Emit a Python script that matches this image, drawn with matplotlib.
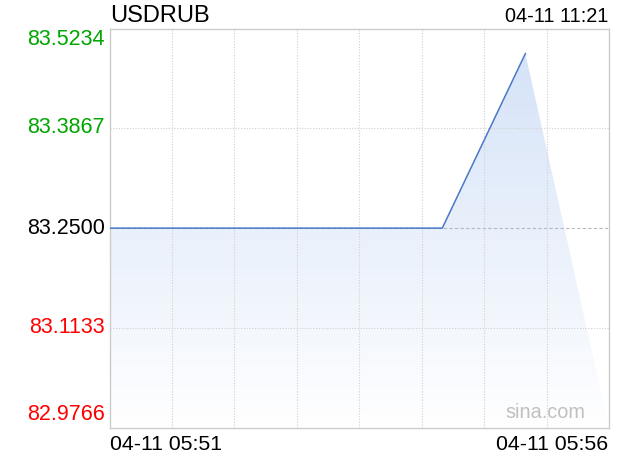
import numpy as np
import matplotlib
matplotlib.use("Agg")
import matplotlib.pyplot as plt
from matplotlib.patches import Polygon

plt.rcParams["font.family"] = ["Liberation Sans", "DejaVu Sans"]

symbol = "USDRUB"
stamp = "04-11 11:21"
x_labels = ["04-11 05:51", "04-11 05:56"]
prev_close = 83.25
y_ticks = [83.5234, 83.3867, 83.2500, 83.1133, 82.9766]
# position along the time axis (0..8 grid steps) and price
t = [0.0, 5.33, 6.66]
price = [83.25, 83.25, 83.489]

W, H = 620, 460
fig = plt.figure(figsize=(W / 100, H / 100), dpi=100)
ax = fig.add_axes([109.5 / W, (H - 428.7) / H, 499.5 / W, 399.2 / H])
ymin, ymax = y_ticks[-1], y_ticks[0]

for x in range(1, 8):
    ax.axvline(x, color="#d0d0d0", lw=0.8, ls=(0, (1, 1.5)), zorder=4)
for y in (y_ticks[1], y_ticks[3]):
    ax.axhline(y, color="#d0d0d0", lw=0.8, ls=(0, (1, 1.5)), zorder=4)
ax.axhline(prev_close, color="#b8b8b8", lw=0.8, ls=(0, (3, 2)), zorder=4)

# gradient fill under the line, closed at the bottom-right corner
verts = list(zip(t, price)) + [(8, ymin), (0, ymin)]
poly = Polygon(verts, closed=True, facecolor="none", edgecolor="none")
ax.add_patch(poly)
top = max(price)
grad = np.linspace(0, 1, 256).reshape(-1, 1)
c0 = np.array([0xd5, 0xe3, 0xf8]) / 255
c1 = np.array([1.0, 1.0, 1.0])
img = c0[None, None, :] * (1 - grad[:, :, None]) + c1[None, None, :] * grad[:, :, None]
im = ax.imshow(img, extent=[0, 8, ymin, top], origin="upper", aspect="auto",
               zorder=2, interpolation="bilinear")
im.set_clip_path(poly)
ax.set_xlim(0, 8)
ax.set_ylim(ymin, ymax)

ax.plot(t, price, color="#4a78c8", lw=1.1, zorder=5)

for s in ax.spines.values():
    s.set_color("#cccccc")
    s.set_linewidth(1)
ax.set_xticks([])
ax.set_yticks([])

colors = ["#00a600", "#00a600", "#000000", "#ff0000", "#ff0000"]
ypix = [40, 128, 229, 328, 415]
for v, c, yp in zip(y_ticks, colors, ypix):
    fig.text(105 / W, 1 - yp / H, "%.4f" % v, color=c, fontsize=15.5,
             ha="right", va="center")

fig.text(110 / W, 1 - 16 / H, symbol, fontsize=17, ha="left", va="center")
fig.text(608 / W, 1 - 17 / H, stamp, fontsize=14.3, ha="right", va="center")
fig.text(110 / W, 1 - 445 / H, x_labels[0], fontsize=15.3, ha="left", va="center")
fig.text(608 / W, 1 - 445 / H, x_labels[1], fontsize=15.3, ha="right", va="center")
fig.text(585 / W, 1 - 413 / H, "sina.com", fontsize=14.3, color="#c0c0c0",
         ha="right", va="center")

fig.savefig("out.png", dpi=100)
